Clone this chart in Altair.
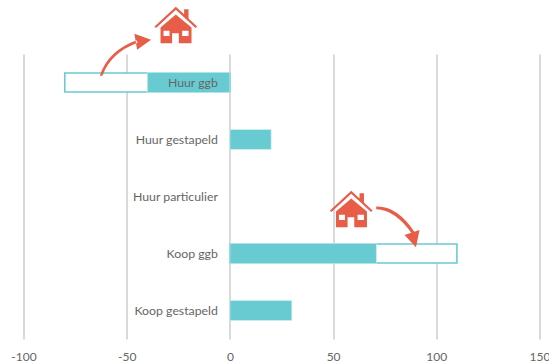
import altair as alt
import pandas as pd

# Change in dwelling stock per housing segment
categories = ["Huur ggb", "Huur gestapeld", "Huur particulier", "Koop ggb", "Koop gestapeld"]
solid_start = [-40, 0, 0, 0, 0]
solid_end = [0, 20, 0, 71, 30]

# Hollow bars: the larger total behind the two "ggb" segments
hollow_categories = ["Huur ggb", "Koop ggb"]
hollow_start = [-80, 0]
hollow_end = [0, 110]

# Annotation anchors: x in chart units, y in category rows from the top
house_x = [-26.2, 58.8]
house_row = [-0.51, 2.72]
arrow_up_x = [-62.4]
arrow_up_row = [0.38]
arrow_down_x = [70.9]
arrow_down_row = [2.70]

axis_ticks = [-100, -50, 0, 50, 100, 150]

TEAL = "#69cbd2"
RED = "#e85d47"
TEXT = "#666666"
FONT = "Lato"

# Custom symbols, drawn at size 4 so path units equal pixels
HOUSE = (
    "M0,-18.3 L8.3,-10.6 L8.3,-15.7 L12.7,-15.7 L12.7,-6.5 L21.3,1.5 L19.8,3 L0,-15.2 L-19.8,3 L-21.3,1.5 Z "
    "M0,-10.5 L15.7,2.5 L15.7,18.3 L3,18.3 L3,8.3 L-3.7,8.3 L-3.7,18.3 L-15.3,18.3 L-15.3,2.5 Z "
    "M-12.3,5.7 L-12.3,11 L-6.3,11 L-6.3,5.7 Z "
    "M6.3,5.7 L6.3,11 L12.7,11 L12.7,5.7 Z"
)
ARROW_UP = (
    "M-1.3,0 Q6.7,-25 35.5,-35.5 L36.5,-33 Q9.5,-23 1.3,0 Z "
    "M50,-36 L33.3,-42 L36,-26 Z"
)
ARROW_DOWN = (
    "M0,-1.3 Q21,-2 38.5,24.5 L36,26 Q19,2 0,1.3 Z "
    "M39.7,39.3 L28.3,27 L43.3,22 Z"
)

solid = pd.DataFrame({"cat": categories, "start": solid_start, "end": solid_end})
hollow = pd.DataFrame({"cat": hollow_categories, "start": hollow_start, "end": hollow_end})
houses = pd.DataFrame({"x": house_x, "row": house_row})
arrow_up = pd.DataFrame({"x": arrow_up_x, "row": arrow_up_row})
arrow_down = pd.DataFrame({"x": arrow_down_x, "row": arrow_down_row})

x_scale = alt.Scale(domain=[-100, 150], nice=False, zero=False)
x_axis = alt.Axis(
    values=axis_ticks,
    title=None,
    domain=False,
    ticks=False,
    grid=True,
    gridColor="#d9d9d9",
    gridWidth=2,
    labelFont=FONT,
    labelFontSize=12,
    labelColor=TEXT,
    labelPadding=12,
    labelFlush=False,
    labelOverlap=False,
    labelExpr="datum.value",
)
x_start = alt.X("start:Q", scale=x_scale, axis=x_axis)
y_cat = alt.Y("cat:N", scale=alt.Scale(domain=categories), axis=None, sort=None)
y_row = alt.Y("row:Q", scale=alt.Scale(domain=[0, 5], reverse=True, nice=False, zero=False), axis=None)
x_anchor = alt.X("x:Q", scale=x_scale, axis=x_axis)

hollow_bars = alt.Chart(hollow).mark_bar(
    size=19, fill="white", stroke=TEAL, strokeWidth=1.6
).encode(x=x_start, x2="end:Q", y=y_cat)

solid_bars = alt.Chart(solid).transform_filter("datum.start != datum.end").mark_bar(
    size=20, fill=TEAL, stroke="#d6f0f2", strokeWidth=0.6
).encode(x=x_start, x2="end:Q", y=y_cat)

labels = alt.Chart(solid).mark_text(
    align="right", baseline="middle", dx=-12, font=FONT, fontSize=12.3, color=TEXT
).encode(x=alt.X("zero:Q", scale=x_scale, axis=x_axis), y=y_cat, text="cat:N").transform_calculate(zero="0")


def symbol(data, path):
    return alt.Chart(data).mark_point(
        shape=path, size=4, filled=True, fill=RED, strokeWidth=0, opacity=1
    ).encode(x=x_anchor, y=y_row)


chart = (
    alt.layer(
        hollow_bars,
        solid_bars,
        labels,
        symbol(houses, HOUSE),
        symbol(arrow_up, ARROW_UP),
        symbol(arrow_down, ARROW_DOWN),
    )
    .resolve_scale(y="independent")
    .properties(
        width=516,
        height=285,
        padding={"left": 23.5, "top": 54, "right": 9.5, "bottom": 23},
        autosize=alt.AutoSizeParams(type="none"),
        background="white",
    )
    .configure_view(stroke=None)
)

chart.save("out.html", embed_options={"renderer": "svg", "actions": False})
